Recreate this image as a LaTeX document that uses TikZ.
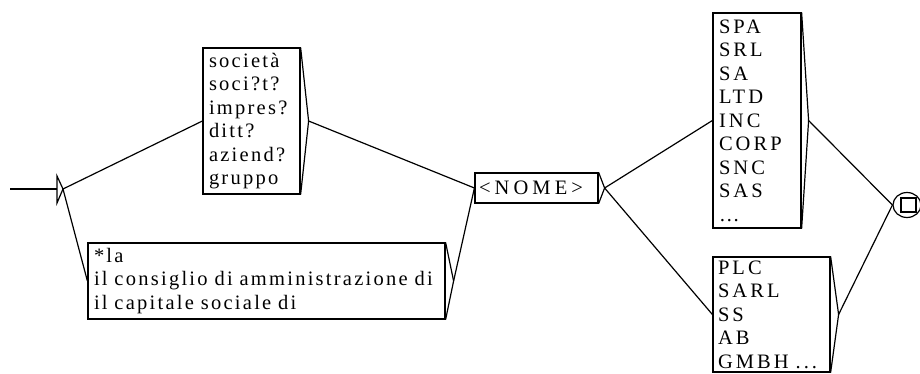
\documentclass[tikz,border=0pt]{standalone}
\usepackage{fontspec}
\setmainfont{Liberation Serif}[LetterSpace=11]
\newfontfamily\capsfont{Liberation Serif}[LetterSpace=15]
\newfontfamily\nomefont{Liberation Serif}[LetterSpace=20]
\usetikzlibrary{calc,shapes.geometric}
\begin{document}
\begin{tikzpicture}[x=1pt,y=-1pt,line width=1.2pt,
  box/.style={draw,rectangle,inner sep=0pt,align=left,
    font=\fontsize{20.5}{23.5}\selectfont},
  capsbox/.style={box,font=\capsfont\fontsize{20.5}{23.5}\selectfont},
  conn/.style={line width=1.2pt}]
\useasboundingbox (0,0) rectangle (920,374);
% initial state
\coordinate (s0) at (10,189);
\coordinate (s1) at (57,189);
\coordinate (init) at (63,189);
\draw[conn] (s0) -- (s1);
\draw (57,176) -- (init) -- (57,203) -- cycle;
% boxes
\node[box,minimum width=97,minimum height=146,text width=85] (b1) at (251.5,121)
  {società\\soci?t?\\impres?\\ditt?\\aziend?\\gruppo};
\node[box,minimum width=357,minimum height=76,text width=345] (b2) at (266.5,281)
  {*la\\il consiglio di amministrazione di\\il capitale sociale di};
\node[box,font=\nomefont\fontsize{20.5}{23.5}\selectfont,minimum width=123,minimum height=30,text width=115] (nome) at (536.5,188)
  {<NOME>};
\node[capsbox,minimum width=88,minimum height=215,text width=76] (spa) at (757,120.5)
  {SPA\\SRL\\SA\\LTD\\INC\\CORP\\SNC\\SAS\\\dots};
\node[capsbox,minimum width=117,minimum height=115,text width=107] (plc) at (771.5,314.5)
  {PLC\\SARL\\SS\\AB\\GMBH ...};
% right triangles
\foreach \b/\d in {b1/8,b2/8,nome/6,spa/7,plc/8}{
  \coordinate (\b t) at ($(\b.east)+(\d,0)$);
  \draw (\b.north east) -- (\b t) -- (\b.south east);
}
% final state
\node[draw,ellipse,minimum width=28,minimum height=25,inner sep=0pt] (fin) at (907,205) {};
\draw (901,198) rectangle (916,212);
% connectors
\draw[conn] (init) -- (b1.west);
\draw[conn] (init) -- (b2.west);
\draw[conn] (b1t) -- (nome.west);
\draw[conn] (b2t) -- (nome.west);
\draw[conn] (nomet) -- (spa.west);
\draw[conn] (nomet) -- (plc.west);
\draw[conn] (spat) -- (fin.west);
\draw[conn] (plct) -- (fin.west);
\end{tikzpicture}
\end{document}
